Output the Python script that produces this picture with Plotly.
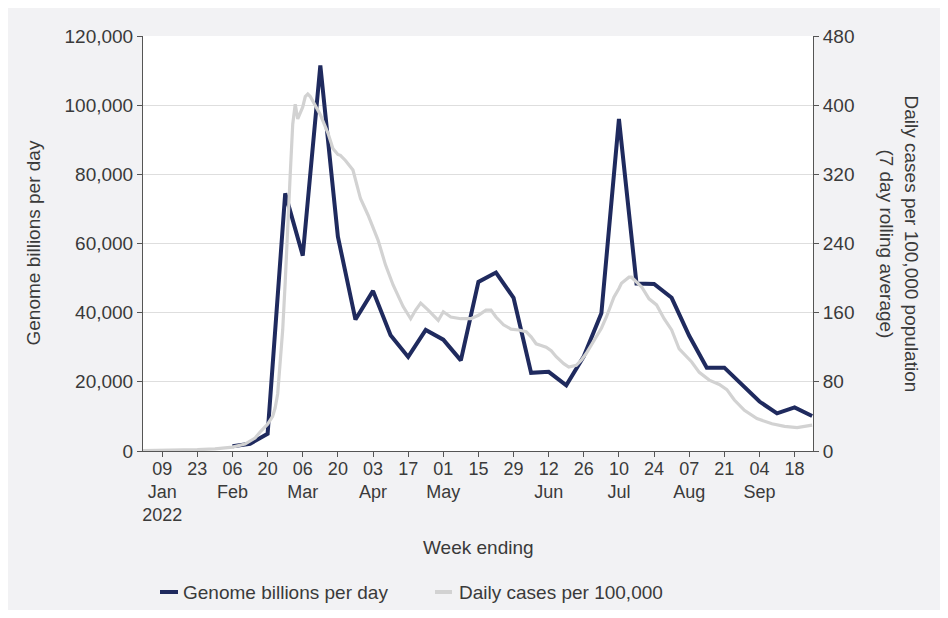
import plotly.graph_objects as go

# ---------------- data ----------------
genome_dates = [
    "2022-02-06", "2022-02-13", "2022-02-20", "2022-02-27", "2022-03-06", "2022-03-13",
    "2022-03-20", "2022-03-27", "2022-04-03", "2022-04-10", "2022-04-17", "2022-04-24",
    "2022-05-01", "2022-05-08", "2022-05-15", "2022-05-22", "2022-05-29", "2022-06-05",
    "2022-06-12", "2022-06-19", "2022-06-26", "2022-07-03", "2022-07-10", "2022-07-17",
    "2022-07-24", "2022-07-31", "2022-08-07", "2022-08-14", "2022-08-21", "2022-08-28",
    "2022-09-04", "2022-09-11", "2022-09-18", "2022-09-25",
]
genome_values = [
    1400, 2100, 5000, 74500, 56500, 111500,
    62000, 38000, 46300, 33500, 27200, 35000,
    32200, 26200, 48900, 51600, 44300, 22600,
    22900, 19000, 27400, 39800, 96000, 48400,
    48300, 44300, 33300, 24100, 24100, 19300,
    14300, 10900, 12600, 10100,
]

cases_dates = [
    "2022-01-01", "2022-01-09", "2022-01-16", "2022-01-23", "2022-01-30", "2022-02-06",
    "2022-02-11", "2022-02-15", "2022-02-17", "2022-02-20", "2022-02-22", "2022-02-23",
    "2022-02-24", "2022-02-25", "2022-02-26", "2022-02-27", "2022-02-28", "2022-03-01",
    "2022-03-02", "2022-03-03", "2022-03-04", "2022-03-05", "2022-03-06", "2022-03-07",
    "2022-03-08", "2022-03-09", "2022-03-10", "2022-03-11", "2022-03-13", "2022-03-15",
    "2022-03-16", "2022-03-18", "2022-03-20", "2022-03-21", "2022-03-23", "2022-03-26",
    "2022-03-28", "2022-03-29", "2022-04-01", "2022-04-05", "2022-04-08", "2022-04-11",
    "2022-04-15", "2022-04-18", "2022-04-20", "2022-04-22", "2022-04-25", "2022-04-29",
    "2022-05-01", "2022-05-04", "2022-05-08", "2022-05-12", "2022-05-15", "2022-05-18",
    "2022-05-20", "2022-05-22", "2022-05-25", "2022-05-28", "2022-05-31", "2022-06-03",
    "2022-06-05", "2022-06-07", "2022-06-09", "2022-06-11", "2022-06-13", "2022-06-15",
    "2022-06-18", "2022-06-20", "2022-06-23", "2022-06-25", "2022-06-27", "2022-06-30",
    "2022-07-03", "2022-07-05", "2022-07-08", "2022-07-10", "2022-07-11", "2022-07-14",
    "2022-07-15", "2022-07-19", "2022-07-22", "2022-07-25", "2022-07-28", "2022-07-31",
    "2022-08-03", "2022-08-08", "2022-08-11", "2022-08-15", "2022-08-19", "2022-08-22",
    "2022-08-25", "2022-08-29", "2022-09-03", "2022-09-09", "2022-09-14", "2022-09-19",
    "2022-09-25",
]
cases_values = [
    0.5, 0.6, 0.9, 1.5, 2.5, 4.5,
    8, 15, 22, 31, 40, 50,
    66, 100, 140, 195, 265, 320,
    378, 401, 384, 390, 398, 410,
    413, 410, 405, 400, 389, 375,
    368, 350, 343, 342, 336, 325,
    302, 292, 273, 244, 215, 192,
    167, 153, 163, 171, 163, 151,
    161, 155, 153, 153, 157, 163,
    163, 155, 146, 141, 140, 138,
    132, 124, 122, 120, 116, 109,
    101, 97, 99, 105, 113, 128,
    142, 155, 178, 188, 194, 201,
    201, 190, 176, 169, 153, 140,
    118, 103, 91, 82, 77, 71,
    59, 47, 37.5, 31.5, 28.5, 27,
    30,
]

tick_dates = [
    "2022-01-09", "2022-01-23", "2022-02-06", "2022-02-20", "2022-03-06", "2022-03-20",
    "2022-04-03", "2022-04-17", "2022-05-01", "2022-05-15", "2022-05-29", "2022-06-12",
    "2022-06-26", "2022-07-10", "2022-07-24", "2022-08-07", "2022-08-21", "2022-09-04",
    "2022-09-18",
]
tick_labels = [
    "09<br>Jan<br>2022", "23", "06<br>Feb", "20", "06<br>Mar", "20",
    "03<br>Apr", "17", "01<br>May", "15", "29", "12<br>Jun",
    "26", "10<br>Jul", "24", "07<br>Aug", "21", "04<br>Sep",
    "18",
]

genome_name = "Genome billions per day"
cases_name = "Daily cases per 100,000"

# ---------------- styling ----------------
NAVY = "#1f2a5e"
GREY_LINE = "#d2d2d2"
TEXT = "#3a3a3a"
AXIS = "#555555"
PANEL = "#f2f2f4"
FONT = "Liberation Sans, Arial, sans-serif"
FS = 19

OFF = 8                      # page body margin
W, H = 932, 602
ML, MT = 135, 28
MR = W - (813 - OFF)
MB = H - (451 - OFF)
PW, PH = W - ML - MR, H - MT - MB


def px_x(wx):
    return (wx - OFF - ML) / PW


def px_y(wy):
    return (H - MB - (wy - OFF)) / PH


fig = go.Figure()
fig.add_trace(go.Scatter(
    x=cases_dates, y=cases_values, name=cases_name,
    mode="lines", line=dict(color=GREY_LINE, width=3.2), yaxis="y2", showlegend=False,
))
fig.add_trace(go.Scatter(
    x=genome_dates, y=genome_values, name=genome_name,
    mode="lines", line=dict(color=NAVY, width=4), yaxis="y", showlegend=False,
))

legend_y = px_y(592)
shapes = [
    dict(type="line", xref="paper", yref="paper", x0=px_x(160), x1=px_x(178),
         y0=legend_y, y1=legend_y, line=dict(color=NAVY, width=4)),
    dict(type="line", xref="paper", yref="paper", x0=px_x(435), x1=px_x(452),
         y0=legend_y, y1=legend_y, line=dict(color=GREY_LINE, width=4)),
]

fig.update_layout(
    width=W, height=H,
    margin=dict(l=ML, r=MR, t=MT, b=MB, pad=0),
    paper_bgcolor=PANEL,
    plot_bgcolor="white",
    font=dict(family=FONT, size=FS, color=TEXT),
    showlegend=False,
    xaxis=dict(
        type="date", range=["2022-01-01 08:00", "2022-09-25 08:00"],
        tickmode="array", tickvals=tick_dates, ticktext=tick_labels,
        ticks="outside", ticklen=5, tickcolor=AXIS, showline=True, linecolor=AXIS,
        linewidth=1, showgrid=False, zeroline=False, tickangle=0,
        ticklabelstandoff=-4,
        tickfont=dict(size=18, color=TEXT),
    ),
    yaxis=dict(
        range=[0, 120000], tickmode="linear", tick0=0, dtick=20000, tickformat=",",
        ticks="outside", ticklen=5, tickcolor=AXIS, showline=True, linecolor=AXIS,
        linewidth=1, showgrid=True, gridcolor="#dedede", gridwidth=1, zeroline=False,
        tickfont=dict(size=FS, color=TEXT),
    ),
    yaxis2=dict(
        range=[0, 480], tickmode="linear", tick0=0, dtick=80, overlaying="y", side="right",
        ticks="outside", ticklen=5, tickcolor=AXIS, showline=True, linecolor=AXIS,
        linewidth=1, showgrid=False, zeroline=False, tickfont=dict(size=FS, color=TEXT),
    ),
    shapes=shapes,
    annotations=[
        dict(text="Week ending", xref="paper", yref="paper", x=px_x(478), y=px_y(547),
             xanchor="center", yanchor="middle", showarrow=False,
             font=dict(size=FS, color=TEXT)),
        dict(text="Genome billions per day", xref="paper", yref="paper",
             x=px_x(33), y=0.5, xanchor="center", yanchor="middle", textangle=-90,
             showarrow=False, font=dict(size=FS, color=TEXT)),
        dict(text="Daily cases per 100,000 population<br>(7 day rolling average)",
             xref="paper", yref="paper", x=px_x(899), y=0.5, xanchor="center",
             yanchor="middle", textangle=90, showarrow=False,
             font=dict(size=FS, color=TEXT)),
        dict(text=genome_name, xref="paper", yref="paper", x=px_x(181), y=legend_y,
             xanchor="left", yanchor="middle", showarrow=False,
             font=dict(size=FS, color=TEXT)),
        dict(text=cases_name, xref="paper", yref="paper", x=px_x(457), y=legend_y,
             xanchor="left", yanchor="middle", showarrow=False,
             font=dict(size=FS, color=TEXT)),
    ],
)

fig.write_html("out.html")
